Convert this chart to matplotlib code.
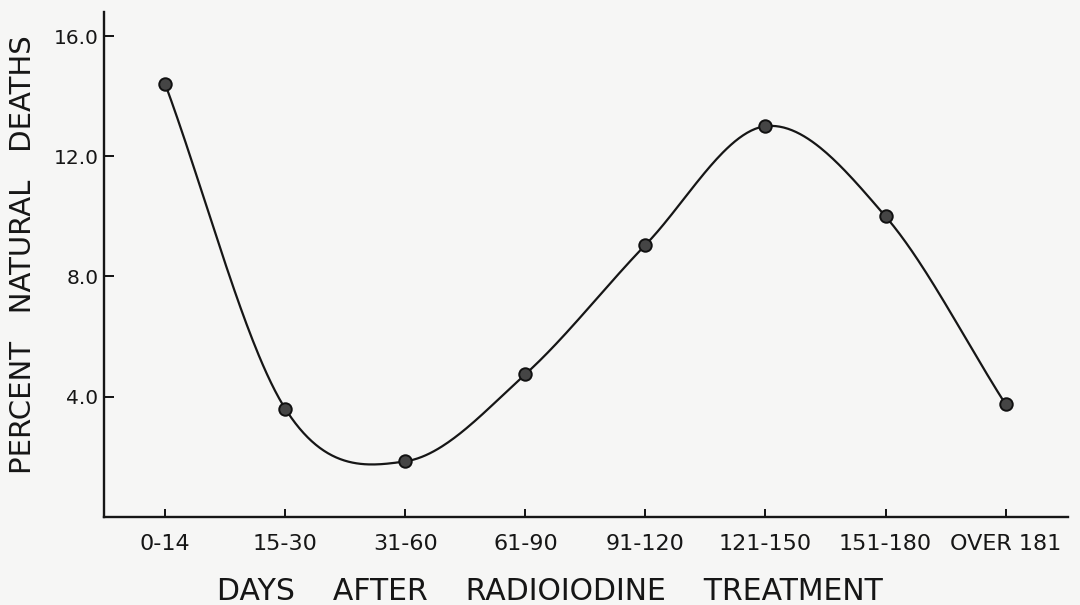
import numpy as np
import matplotlib
matplotlib.use("Agg")
import matplotlib.pyplot as plt

# Percent natural deaths by interval after radioiodine treatment
categories = ["0-14", "15-30", "31-60", "61-90", "91-120", "121-150", "151-180", "OVER 181"]
percent_deaths = [14.4, 3.6, 1.85, 4.75, 9.05, 13.0, 10.0, 3.75]
y_ticks = [4.0, 8.0, 12.0, 16.0]
y_tick_labels = ["4.0", "8.0", "12.0", "16.0"]


def catmull_rom(x, y, n=60):
    """Smooth curve through the points using cubic Hermite segments
    with Catmull-Rom tangents (one-sided at the ends)."""
    x = np.asarray(x, float)
    y = np.asarray(y, float)
    k = len(x)
    m = np.empty(k)
    m[0] = (y[1] - y[0]) / (x[1] - x[0])
    m[-1] = (y[-1] - y[-2]) / (x[-1] - x[-2])
    m[1:-1] = (y[2:] - y[:-2]) / (x[2:] - x[:-2])
    xs_all, ys_all = [], []
    for i in range(k - 1):
        h = x[i + 1] - x[i]
        t = np.linspace(0, 1, n)
        h00 = 2 * t**3 - 3 * t**2 + 1
        h10 = t**3 - 2 * t**2 + t
        h01 = -2 * t**3 + 3 * t**2
        h11 = t**3 - t**2
        xs_all.append(x[i] + t * h)
        ys_all.append(h00 * y[i] + h10 * h * m[i] + h01 * y[i + 1] + h11 * h * m[i + 1])
    return np.concatenate(xs_all), np.concatenate(ys_all)


plt.rcParams["font.family"] = ["DejaVu Sans"]
bg = "#f6f6f5"
ink = "#161616"
fig = plt.figure(figsize=(10.8, 6.05), dpi=100, facecolor=bg)
ax = fig.add_axes([0.0963, 0.1455, 0.8926, 0.8347], facecolor=bg)

pos = np.arange(len(categories))
xs, ys = catmull_rom(pos, percent_deaths)
ax.plot(xs, ys, color=ink, lw=1.6, zorder=2)
ax.plot(pos, percent_deaths, "o", ms=9, mfc="#454545", mec="#111111", mew=1.4, zorder=3)

ax.set_xlim(-0.51, 7.52)
ax.set_ylim(0, 16.8)

ax.spines["top"].set_visible(False)
ax.spines["right"].set_visible(False)
for s in ("left", "bottom"):
    ax.spines[s].set_linewidth(1.7)
    ax.spines[s].set_color(ink)

ax.set_xticks(pos)
ax.set_xticklabels(categories, fontsize=16, color=ink)
ax.set_yticks(y_ticks)
ax.set_yticklabels(y_tick_labels, fontsize=14.5, color=ink)
ax.tick_params(axis="x", direction="in", length=6, width=1.3, pad=12)
ax.tick_params(axis="y", direction="in", length=7, width=1.3, pad=4)

ax.set_xlabel("DAYS    AFTER    RADIOIODINE    TREATMENT", fontsize=21.5, color=ink)
ax.xaxis.set_label_coords(0.463, -0.118)
ax.set_ylabel("PERCENT   NATURAL   DEATHS", fontsize=21, color=ink)
ax.yaxis.set_label_coords(-0.069, 0.52)

fig.savefig("out.png", dpi=100, facecolor=bg)
